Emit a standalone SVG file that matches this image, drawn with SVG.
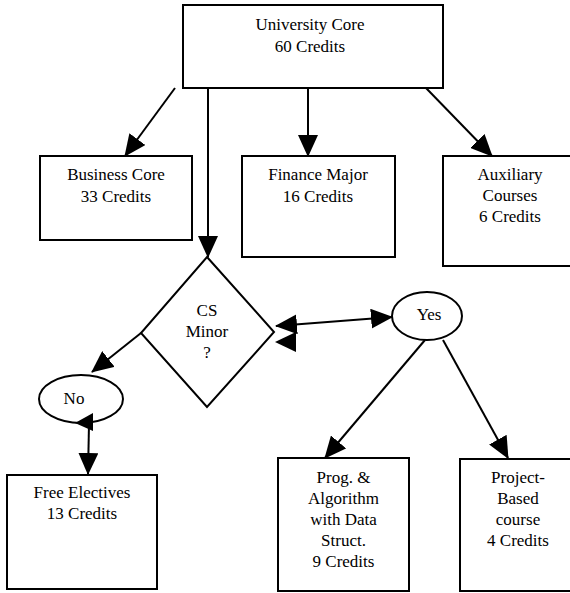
<svg xmlns="http://www.w3.org/2000/svg" width="570" height="593" viewBox="0 0 570 593">
<style>
.box{fill:#fff;stroke:#000;stroke-width:2}
.t{font-family:'Liberation Serif','Times New Roman','DejaVu Serif',serif;font-size:17px;fill:#000;text-anchor:middle}
.c{stroke:#000;stroke-width:2;fill:none}
.ah{fill:#000}
</style>
<defs>
<marker id="arr" markerUnits="userSpaceOnUse" markerWidth="22" markerHeight="20" refX="21" refY="10" orient="auto-start-reverse">
<path d="M0,0 L22,10 L0,20 z" fill="#000"/>
</marker>
</defs>
<rect width="570" height="593" fill="#fff"/>
<g id="university-core">
<rect class="box" x="183" y="5" width="260" height="83"/>
<text class="t" x="310" y="30">University Core</text>
<text class="t" x="310" y="52">60 Credits</text>
</g>
<g id="business-core">
<rect class="box" x="40" y="156" width="152" height="84"/>
<text class="t" x="116" y="180">Business Core</text>
<text class="t" x="116" y="202">33 Credits</text>
</g>
<g id="finance-major">
<rect class="box" x="242" y="156" width="153" height="101"/>
<text class="t" x="318" y="180">Finance Major</text>
<text class="t" x="318" y="202">16 Credits</text>
</g>
<g id="auxiliary">
<rect class="box" x="443" y="156" width="134" height="110"/>
<text class="t" x="510" y="180">Auxiliary</text>
<text class="t" x="510" y="201">Courses</text>
<text class="t" x="510" y="222">6 Credits</text>
</g>
<g id="cs-minor">
<polygon class="box" points="207,257 274,332 207,407 141,333"/>
<text class="t" x="207" y="316">CS</text>
<text class="t" x="207" y="337">Minor</text>
<text class="t" x="207" y="358">?</text>
</g>
<g id="yes">
<ellipse class="box" cx="427" cy="316" rx="35" ry="24"/>
<text class="t" x="429" y="320">Yes</text>
</g>
<g id="no">
<ellipse class="box" cx="81" cy="399" rx="42" ry="24"/>
<text class="t" x="74" y="404">No</text>
</g>
<g id="free-electives">
<rect class="box" x="7" y="475" width="150" height="114"/>
<text class="t" x="82" y="498">Free Electives</text>
<text class="t" x="82" y="519">13 Credits</text>
</g>
<g id="prog-algorithm">
<rect class="box" x="278" y="458" width="131" height="133"/>
<text class="t" x="343.5" y="483">Prog. &amp;</text>
<text class="t" x="343.5" y="504">Algorithm</text>
<text class="t" x="343.5" y="525">with Data</text>
<text class="t" x="343.5" y="546">Struct.</text>
<text class="t" x="343.5" y="567">9 Credits</text>
</g>
<g id="project-based">
<rect class="box" x="460" y="459" width="116" height="132"/>
<text class="t" x="518" y="483">Project-</text>
<text class="t" x="518" y="504">Based</text>
<text class="t" x="518" y="525">course</text>
<text class="t" x="518" y="546">4 Credits</text>
</g>
<g id="connectors">
<line class="c" x1="175" y1="88" x2="125" y2="156" marker-end="url(#arr)"/>
<line class="c" x1="208" y1="88" x2="208" y2="257" marker-end="url(#arr)"/>
<line class="c" x1="308" y1="88" x2="308" y2="156" marker-end="url(#arr)"/>
<line class="c" x1="426" y1="88" x2="492" y2="156" marker-end="url(#arr)"/>
<line class="c" x1="276" y1="326" x2="392" y2="317" marker-start="url(#arr)" marker-end="url(#arr)"/>
<polygon class="ah" points="275,342 296,332 296,352"/>
<line class="c" x1="141" y1="333" x2="92" y2="372" marker-end="url(#arr)"/>
<line class="c" x1="89" y1="424" x2="88" y2="474" marker-end="url(#arr)"/>
<polygon class="ah" points="75,423 93,413 93,431"/>
<line class="c" x1="425" y1="340" x2="325" y2="458" marker-end="url(#arr)"/>
<line class="c" x1="443" y1="340" x2="508" y2="458" marker-end="url(#arr)"/>
</g>
</svg>
